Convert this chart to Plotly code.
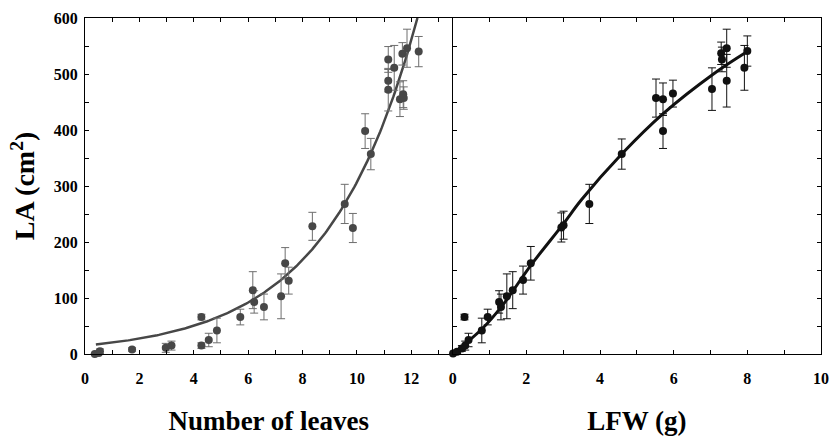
import numpy as np
import plotly.graph_objects as go

# ---- Left panel: LA vs number of leaves ----
leaves_x = [0.36, 0.51, 0.55, 1.73, 2.97, 3.18, 4.28, 4.28, 4.55, 4.85, 5.71, 6.17, 6.22, 6.58,
            7.21, 7.36, 7.49, 8.36, 9.55, 9.85, 10.3, 10.51, 11.15, 11.15, 11.15, 11.37, 11.58,
            11.7, 11.72, 11.67, 11.84, 12.27]
leaves_la = [0, 2, 5, 8, 11, 15, 66, 15, 25, 42, 66, 114, 93, 84, 103, 162, 131, 228, 268, 225,
             398, 357, 526, 488, 472, 511, 455, 464, 457, 536, 546, 540]
leaves_err = [1, 2, 4, 3, 8, 8, 5, 5, 12, 22, 14, 33, 20, 23, 40, 28, 24, 25, 35, 26, 31, 28,
              23, 20, 38, 40, 31, 24, 20, 20, 34, 27]

# exponential fit: LA = a * exp(b * n)
exp_a = 15.07
exp_b = 0.3014
exp_x_start = 0.4

# ---- Right panel: LA vs LFW ----
lfw_x = [0.01, 0.12, 0.25, 0.34, 0.43, 0.32, 0.79, 0.95, 1.26, 1.31, 1.47, 1.63, 1.91, 2.12,
         2.95, 3.01, 3.71, 4.59, 5.52, 5.71, 5.71, 5.98, 7.04, 7.29, 7.31, 7.44, 7.44, 7.92, 8.0]
lfw_la = [1, 4, 10, 15, 25, 66, 42, 66, 93, 84, 103, 114, 132, 162, 226, 230, 268, 357, 457,
          455, 398, 465, 473, 537, 526, 546, 488, 511, 541]
lfw_err = [1, 3, 5, 8, 12, 5, 22, 14, 20, 23, 40, 33, 25, 30, 26, 25, 35, 27, 34, 29, 31, 24,
           38, 20, 22, 34, 47, 40, 27]

# fitted curve
fit_lfw_x = [0, 0.8, 1.33, 2.14, 3.0, 3.49, 4.59, 5.73, 7.08, 8.0]
fit_lfw_la = [0, 45, 85, 160, 232, 275, 357, 430, 500, 540]

FONT = "Liberation Serif"
GRAY = "#474747"
GRAY_ERR = "#6e6e6e"
BLACK = "#111111"

fig = go.Figure()

exp_x_end = np.log(600 / exp_a) / exp_b
cx = np.linspace(exp_x_start, exp_x_end, 200)
fig.add_trace(go.Scatter(x=cx, y=exp_a * np.exp(exp_b * cx), mode="lines",
                         line=dict(color=GRAY, width=2.5), xaxis="x", yaxis="y",
                         showlegend=False, hoverinfo="skip"))
fig.add_trace(go.Scatter(x=leaves_x, y=leaves_la, mode="markers",
                         marker=dict(color=GRAY, size=8),
                         error_y=dict(type="data", array=leaves_err, color=GRAY_ERR,
                                      thickness=1, width=4),
                         xaxis="x", yaxis="y", showlegend=False, cliponaxis=False))

fig.add_trace(go.Scatter(x=fit_lfw_x, y=fit_lfw_la, mode="lines", line_shape="spline",
                         line=dict(color=BLACK, width=3), xaxis="x2", yaxis="y2",
                         showlegend=False, hoverinfo="skip"))
fig.add_trace(go.Scatter(x=lfw_x, y=lfw_la, mode="markers",
                         marker=dict(color=BLACK, size=8),
                         error_y=dict(type="data", array=lfw_err, color=BLACK,
                                      thickness=1, width=4),
                         xaxis="x2", yaxis="y2", showlegend=False, cliponaxis=False))

tickfont = dict(family=FONT, size=16, color="black", weight="bold")
titlefont = dict(family=FONT, size=27, color="black", weight="bold")

split = (456.7 - 85) / 744

common_x = dict(showline=True, linecolor="black", linewidth=1.3, mirror="ticks",
                ticks="inside", ticklen=4, tickcolor="black", ticklabelstandoff=10,
                minor=dict(dtick=1, ticks="inside", ticklen=4, tickcolor="black"),
                showgrid=False, zeroline=False, tickfont=tickfont, fixedrange=True)

fig.update_layout(
    width=839, height=440,
    margin=dict(l=85, r=10, t=15, b=86),
    paper_bgcolor="white", plot_bgcolor="white",
    xaxis=dict(domain=[0, split], range=[0, 13.52], anchor="y",
               title=dict(text="Number of leaves", font=titlefont, standoff=24),
               tickvals=[0, 2, 4, 6, 8, 10, 12], **common_x),
    xaxis2=dict(domain=[split, 1], range=[0, 10], anchor="y2", dtick=2, tick0=0,
                title=dict(text="LFW (g)", font=titlefont, standoff=24), **common_x),
    yaxis=dict(domain=[0, 1], range=[0, 600], anchor="x", showline=True, linecolor="black",
               linewidth=1.3, ticks="inside", ticklen=4, tickcolor="black", dtick=100,
               ticklabelstandoff=3,
               minor=dict(dtick=50, ticks="inside", ticklen=4, tickcolor="black"),
               showgrid=False, zeroline=False, tickfont=tickfont,
               title=dict(text="LA (cm<sup>2</sup>)",
                          font=dict(family=FONT, size=28, color="black", weight="bold"),
                          standoff=10)),
    yaxis2=dict(domain=[0, 1], range=[0, 600], anchor="x2", matches="y", showline=True,
                linecolor="black", linewidth=1.3, mirror="ticks", ticks="inside", ticklen=4,
                tickcolor="black", dtick=100,
                minor=dict(dtick=50, ticks="inside", ticklen=4, tickcolor="black"),
                showgrid=False, zeroline=False, showticklabels=False),
)

fig.write_html("out.html")
